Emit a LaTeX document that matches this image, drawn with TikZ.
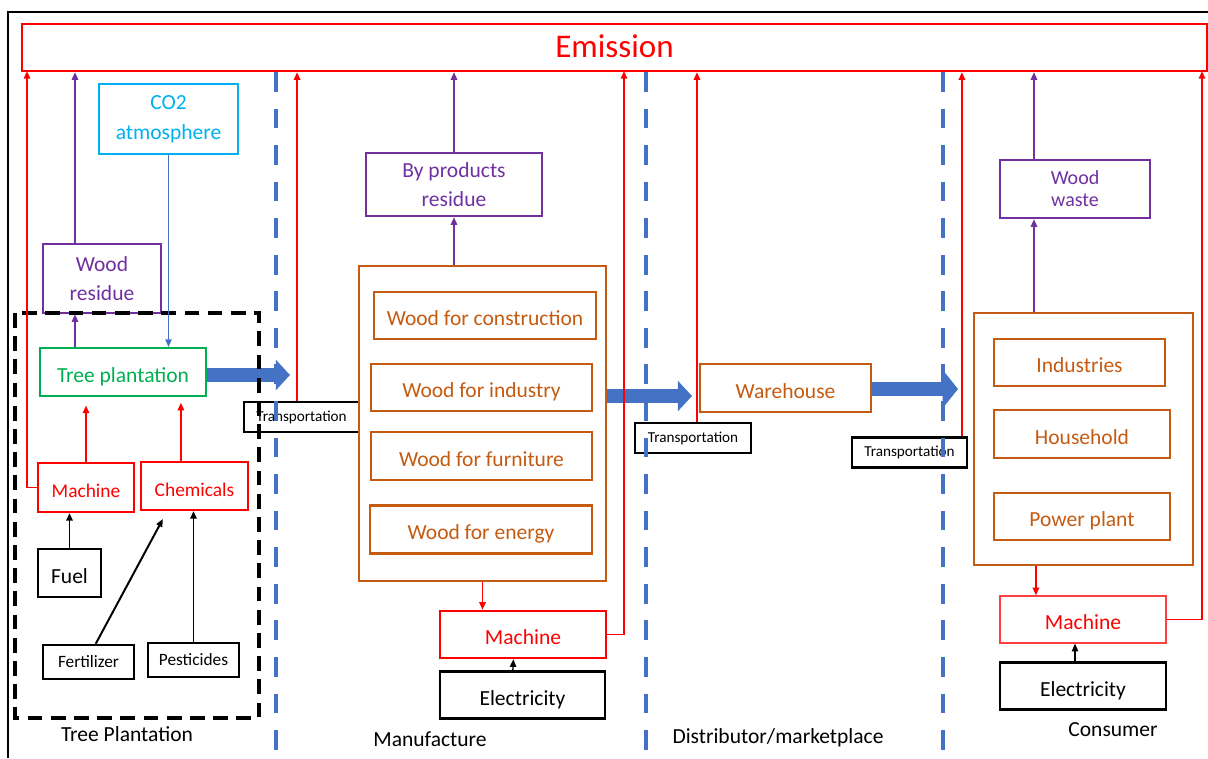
\documentclass[tikz,border=0pt]{standalone}
\usepackage{fontspec}
\setmainfont{Carlito}
\usetikzlibrary{arrows.meta}

\definecolor{emitred}{HTML}{FF0000}
\definecolor{residuepurple}{HTML}{7030A0}
\definecolor{woodorange}{HTML}{C55A11}
\definecolor{treegreen}{HTML}{00B050}
\definecolor{airblue}{HTML}{00B0F0}
\definecolor{flowblue}{HTML}{4472C4}

\newcommand\boxfont{\fontsize{15.3}{21}\selectfont}
\newcommand\emitfont{\fontsize{23.5}{28}\selectfont}
\newcommand\midfont{\fontsize{13.8}{17}\selectfont}
\newcommand\smallfont{\fontsize{12.3}{15}\selectfont}
\newcommand\tinyfont{\fontsize{10.8}{13}\selectfont}
\newcommand\wastefont{\fontsize{14.2}{15.6}\selectfont}

\begin{document}
\begin{tikzpicture}
[x=0.025cm,y=-0.025cm,>={Triangle[length=5.5pt,width=4.5pt]},%
  every node/.style={shape=rectangle,draw,line width=1.4pt,inner sep=0pt,align=center,font=\boxfont},%
  oneline/.style={text height=1.55em,text depth=0.1em},%
  redbox/.style={draw=emitred,text=emitred,oneline},%
  purplebox/.style={draw=residuepurple,text=residuepurple,line width=1.6pt},%
  orangebox/.style={draw=woodorange,text=woodorange,line width=1.5pt,oneline},%
  blackbox/.style={draw=black,line width=1.7pt,oneline},%
  inputbox/.style={draw=black,line width=1.7pt,font=\smallfont,minimum width=2.275cm,minimum height=0.85cm},%
  transbox/.style={draw=black,line width=1.8pt,font=\tinyfont,minimum height=0.75cm},%
  stagename/.style={draw=none},%
  redarrow/.style={->,draw=emitred,line width=1.4pt},%
  purplearrow/.style={->,draw=residuepurple,line width=1.8pt},%
  blackarrow/.style={->,draw=black,line width=1.4pt},%
  bigarrow/.style={draw=flowblue,line width=10.5pt,-{Triangle[length=10pt,width=21pt]}},%
  stageline/.style={draw=flowblue,line width=2.6pt,dash pattern=on 14pt off 12pt}]
\useasboundingbox (0,0) rectangle (1208,758);
% frame
\draw[line width=1.5pt] (8,758) -- (8,12) -- (1208,12);
\node[draw=emitred,text=emitred,line width=1.6pt,minimum width=29.625cm,minimum height=1.175cm,font=\emitfont,text depth=0.25em] (emission) at (614.5,47.5) {Emission};

% tree plantation
\node[draw=airblue,text=airblue,minimum width=3.475cm,minimum height=1.75cm] (co2) at (168.5,119) {CO2\\atmosphere};
\node[purplebox,minimum width=2.95cm,minimum height=1.725cm] (wres) at (102,278.5) {Wood\\residue};
\node[draw=treegreen,text=treegreen,oneline,minimum width=4.15cm,minimum height=1.2cm] (tree) at (123,372) {Tree plantation};
\node[redbox,minimum width=2.4cm,minimum height=1.225cm,font=\midfont] (mach1) at (86,487.5) {Machine};
\node[redbox,minimum width=2.675cm,minimum height=1.2cm,font=\midfont] (chem) at (194.5,486) {Chemicals};
\node[blackbox,minimum width=1.575cm,minimum height=1.2cm] (fuel) at (69.5,573) {Fuel};
\node[inputbox] (fert) at (88.5,662) {Fertilizer};
\node[inputbox] (pest) at (193.5,660) {Pesticides};
\node[stagename] (treelab) at (127,734) {Tree Plantation};
\node[transbox,minimum width=2.875cm] (tr1) at (301.5,417) {Transportation};

% manufacture
\node[orangebox,minimum width=6.175cm,minimum height=7.875cm] (manu) at (482.5,423.5) {};
\node[orangebox,minimum width=5.55cm,minimum height=1.175cm] (constr) at (485,315.5) {Wood for construction};
\node[orangebox,minimum width=5.525cm,minimum height=1.175cm] (indus) at (481.5,387.5) {Wood for industry};
\node[orangebox,minimum width=5.525cm,minimum height=1.2cm] (furn) at (481.5,456) {Wood for furniture};
\node[orangebox,minimum width=5.55cm,minimum height=1.2cm] (energy) at (481,529.5) {Wood for energy};
\node[purplebox,minimum width=4.4cm,minimum height=1.575cm] (byprod) at (454,184.5) {By products\\residue};
\node[redbox,line width=1.6pt,minimum width=4.15cm,minimum height=1.175cm] (mach2) at (523,634.5) {Machine};
\node[blackbox,minimum width=4.125cm,minimum height=1.175cm] (elec2) at (522.5,695) {Electricity};
\node[stagename] (manulab) at (430,739) {Manufacture};
\node[transbox,minimum width=2.9cm] (tr2) at (693,438) {Transportation};

% distributor
\node[orangebox,minimum width=4.275cm,minimum height=1.2cm] (ware) at (785.5,388) {Warehouse};
\node[stagename] (distlab) at (778,738) {Distributor/marketplace};
\node[transbox,minimum width=2.875cm] (tr3) at (909.5,452.5) {Transportation};

% consumer
\node[orangebox,minimum width=5.475cm,minimum height=6.3cm] (cons) at (1083.5,439) {};
\node[orangebox,minimum width=4.275cm,minimum height=1.175cm] (indust) at (1079.5,362.5) {Industries};
\node[orangebox,minimum width=4.4cm,minimum height=1.2cm] (house) at (1082,434) {Household};
\node[orangebox,minimum width=4.4cm,minimum height=1.175cm] (power) at (1082,516.5) {Power plant};
\node[purplebox,minimum width=3.75cm,minimum height=1.45cm,font=\wastefont] (wwaste) at (1075,189) {Wood\\waste};
\node[redbox,draw=emitred!75,line width=0.8pt,minimum width=4.15cm,minimum height=1.175cm] (mach3) at (1083,619.5) {Machine};
\node[blackbox,minimum width=4.15cm,minimum height=1.175cm] (elec3) at (1083,686) {Electricity};
\node[stagename] (conslab) at (1113,730) {Consumer};

% transport arrows
\coordinate (a1) at (290,375);
\coordinate (a2) at (692,396);
\coordinate (a3) at (958,389);
\draw[bigarrow] (tree.east |- a1) -- (a1);
\draw[bigarrow] (manu.east |- a2) -- (a2);
\draw[bigarrow,-{Triangle[length=11pt,width=27pt]}] (ware.east |- a3) -- (a3);

% stage borders
\draw[stageline] (276,72) -- (276,750);
\draw[stageline] (646,72) -- (646,750);
\draw[stageline] (943,72) -- (943,750);
\draw[line width=2.2pt,dash pattern=on 10.5pt off 6pt] (15,313) rectangle (259,718);

% emission ends
\coordinate (up1) at (27,71);
\coordinate (up2) at (624,71);
\coordinate (up3) at (1202,71);

\draw[redarrow] (mach1.west) -| (up1);
\draw[purplearrow] ([xshift=-0.675cm]wres.north) -- ([xshift=-0.675cm]wres.north |- emission.south);
\draw[purplearrow] ([xshift=-0.675cm]wres.south |- tree.north) -- ([xshift=-0.675cm]wres.south);
\draw[->,draw=flowblue,line width=1pt] (co2.south) -- (co2.south |- tree.north);
\draw[redarrow,shorten >=6pt] (mach1.north) -- (mach1.north |- tree.south);
\draw[redarrow,shorten >=4pt] ([xshift=-0.34cm]chem.north) -- ([xshift=-0.34cm]chem.north |- tree.south);
\draw[blackarrow] (fuel.north) -- (fuel.north |- mach1.south);
\draw[blackarrow] ([xshift=0.18cm]fert.north) -- ([xshift=-0.79cm,yshift=-0.2cm]chem.south);
\draw[blackarrow] (pest.north) -- (pest.north |- chem.south);
\draw[redarrow] ([xshift=-0.11cm]tr1.north) -- ([xshift=-0.11cm]tr1.north |- emission.south);

\draw[purplearrow] (byprod.south |- manu.north) -- (byprod.south);
\draw[purplearrow] (byprod.north) -- (byprod.north |- emission.south);
\draw[redarrow] (manu.south) -- (manu.south |- mach2.north);
\draw[blackarrow,line width=1pt] ([xshift=-0.24cm]elec2.north) -- ([xshift=-0.24cm]mach2.south);
\draw[redarrow] (mach2.east) -| (up2);
\draw[redarrow] ([xshift=0.1cm]tr2.north) -- ([xshift=0.1cm]tr2.north |- emission.south);
\draw[redarrow] ([xshift=1.31cm]tr3.north) -- ([xshift=1.31cm]tr3.north |- emission.south);

\draw[purplearrow] ([xshift=-1.025cm]wwaste.south |- cons.north) -- ([xshift=-1.025cm]wwaste.south);
\draw[purplearrow] ([xshift=-1.025cm]wwaste.north) -- ([xshift=-1.025cm]wwaste.north |- emission.south);
\draw[redarrow] ([xshift=-1.19cm]cons.south) -- ([xshift=-1.19cm]cons.south |- mach3.north);
\draw[blackarrow,line width=1pt] ([xshift=-0.2cm]elec3.north) -- ([xshift=-0.2cm]mach3.south);
\draw[redarrow] (mach3.east) -| (up3);
\end{tikzpicture}
\end{document}
